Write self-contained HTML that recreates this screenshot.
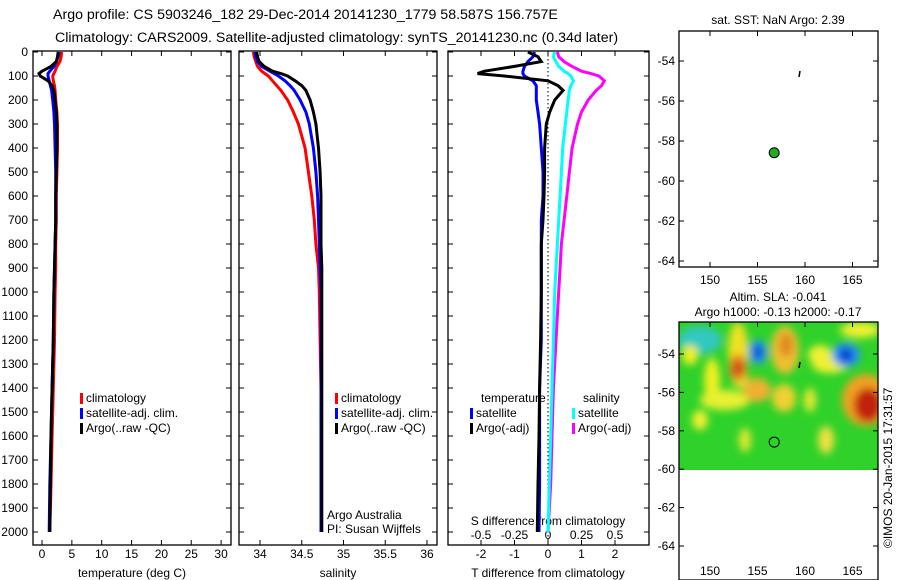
<!DOCTYPE html>
<html><head><meta charset="utf-8"><style>
html,body{margin:0;padding:0;background:#fff}
svg{display:block;font-family:"Liberation Sans",sans-serif}
text{font-size:12px;fill:#000}
</style></head><body>
<svg id="c" width="900" height="580" viewBox="0 0 900 580">
<defs>
<filter id="bl" x="-50%" y="-50%" width="200%" height="200%"><feGaussianBlur stdDeviation="4"/></filter>
<clipPath id="mapclip"><rect x="679" y="322" width="199" height="148"/></clipPath>
</defs>
<text x="53" y="19" style="font-size:14.2px">Argo profile: CS 5903246_182 29-Dec-2014 20141230_1779 58.587S 156.757E</text>
<text x="55" y="42" style="font-size:14.2px">Climatology: CARS2009. Satellite-adjusted climatology: synTS_20141230.nc (0.34d later)</text>
<g id="g"></g>
</svg>
<script>
// ---- data ----
const depths = [0,20,40,60,80,90,100,120,140,160,200,250,300,400,500,600,700,800,900,1000,1200,1400,1600,1800,2000];
const tempClim = [3.3,3.2,3.0,2.5,2.2,2.0,1.8,1.9,2.1,2.2,2.3,2.5,2.6,2.6,2.5,2.4,2.4,2.3,2.3,2.2,2.1,1.9,1.7,1.5,1.3];
const tempSat  = [2.9,2.7,2.4,2.0,1.3,1.0,1.0,1.2,1.4,1.6,1.8,2.0,2.1,2.2,2.3,2.3,2.3,2.2,2.1,2.0,1.9,1.7,1.5,1.3,1.2];
const tempArgo = [2.7,2.6,2.4,1.5,0.0,-0.5,-0.3,1.0,1.7,2.0,2.2,2.4,2.5,2.5,2.4,2.3,2.3,2.2,2.1,2.0,1.9,1.7,1.5,1.4,1.3];
const salClim = [33.92,33.93,33.95,33.97,34.02,34.06,34.10,34.15,34.20,34.25,34.33,34.40,34.46,34.54,34.58,34.62,34.65,34.67,34.70,34.71,34.72,34.73,34.73,34.73,34.73];
const salSat  = [33.94,33.95,33.97,34.02,34.12,34.17,34.22,34.30,34.36,34.41,34.48,34.55,34.59,34.64,34.67,34.69,34.70,34.71,34.72,34.73,34.73,34.73,34.73,34.73,34.73];
const salArgo = [33.96,33.97,33.99,34.05,34.15,34.25,34.33,34.42,34.50,34.55,34.60,34.64,34.67,34.70,34.72,34.73,34.73,34.73,34.74,34.74,34.74,34.74,34.74,34.74,34.74];
const tDiffSat  = [-0.4,-0.45,-0.6,-0.7,-0.75,-0.75,-0.7,-0.45,-0.35,-0.35,-0.35,-0.3,-0.25,-0.2,-0.15,-0.15,-0.2,-0.2,-0.2,-0.2,-0.2,-0.25,-0.25,-0.25,-0.27];
const tDiffArgo = [-0.6,-0.3,-0.2,-1.0,-1.9,-2.1,-1.3,0.0,0.3,0.45,0.2,0.05,-0.05,-0.1,-0.1,-0.12,-0.15,-0.2,-0.2,-0.2,-0.22,-0.25,-0.27,-0.3,-0.32];
const sDiffSat  = [0.05,0.04,0.06,0.08,0.12,0.15,0.17,0.19,0.17,0.16,0.15,0.14,0.13,0.11,0.10,0.09,0.08,0.07,0.06,0.05,0.04,0.03,0.02,0.01,0.0];
const sDiffArgo = [0.07,0.08,0.12,0.18,0.25,0.32,0.38,0.42,0.40,0.36,0.30,0.25,0.22,0.18,0.16,0.14,0.12,0.10,0.09,0.08,0.06,0.04,0.03,0.02,0.0];
const depthTicks = [0,100,200,300,400,500,600,700,800,900,1000,1100,1200,1300,1400,1500,1600,1700,1800,1900,2000];
const tempTicks = [0,5,10,15,20,25,30];
const salTicks = [34,34.5,35,35.5,36];
const tdTicks = [-2,-1,0,1,2];
const sdTicks = [-0.5,-0.25,0,0.25,0.5];
const sdTickLabels = ['-0.5','-0.25','0','0.25','0.5'];
const lonTicks = [150,155,160,165];
const latTicksTop = [-54,-56,-58,-60,-62,-64];
const floatLon = 156.757, floatLat = -58.587;

// ---- scales ----
const NS='http://www.w3.org/2000/svg';
const G=document.getElementById('g');
function el(t,a,p){const e=document.createElementNS(NS,t);for(const k in a)e.setAttribute(k,a[k]);(p||G).appendChild(e);return e;}
const Y0=51, Y1=545;
const yD = d => 52 + d*0.24;
const xT = v => 42 + v*5.97;
const xS = v => 260 + (v-34)*83.5;
const xTD = v => 548 + v*33.5;
const xSD = v => 548 + v*134;
const mx = lon => 710 + (lon-150)*9.5;
const myTop = lat => 61 + (-54-lat)*20;
const myBot = lat => 354 + (-54-lat)*19.2;

function box(x0,x1,y0,y1,name){
  const r=el('rect',{x:x0,y:y0,width:x1-x0,height:y1-y0,fill:'none',stroke:'#000','stroke-width':1.3});
  
  
}
function line(vals,xf,color,name,w){
  const pts=vals.map((v,i)=>xf(v).toFixed(1)+','+yD(depths[i]).toFixed(1)).join(' ');
  const p=el('polyline',{points:pts,fill:'none',stroke:color,'stroke-width':w||3});
  
  
}
function txt(x,y,s,anchor,name,size){
  const t=el('text',{x:x,y:y,'text-anchor':anchor||'start'});
  if(size)t.style.fontSize=size+'px';
  t.textContent=s;
  
  
  return t;
}
function yTicks(x0,x1,labels){
  depthTicks.forEach(d=>{
    el('line',{x1:x0,y1:yD(d),x2:x0+5,y2:yD(d),stroke:'#000'});
    el('line',{x1:x1,y1:yD(d),x2:x1-5,y2:yD(d),stroke:'#000'});
    if(labels)txt(x0-5,yD(d)+4,String(d),'end','y-tick-label');
  });
}
function xTicks(ticks,xf,ly){
  ticks.forEach(v=>{
    el('line',{x1:xf(v),y1:Y0,x2:xf(v),y2:Y0+5,stroke:'#000'});
    el('line',{x1:xf(v),y1:Y1,x2:xf(v),y2:Y1-5,stroke:'#000'});
    if(ly)txt(xf(v),ly,String(v),'middle','x-tick-label');
  });
}
function legend(x,y,items){
  items.forEach((it,i)=>{
    const r=el('rect',{x:x,y:y+i*15-9,width:3,height:11,fill:it[0]});
    
    
    txt(x+6,y+i*15,it[1],'start','legend-entry');
  });
}

// Panel 1: temperature
box(33,231,Y0,Y1,'temperature-panel');
yTicks(33,231,true); xTicks(tempTicks,xT,558);
txt(132,577,'temperature (deg C)','middle','temperature-axis-title');
line(tempClim,xT,'#f00','temp-climatology-line');
line(tempSat,xT,'#00f','temp-satellite-line');
line(tempArgo,xT,'#000','temp-argo-line');
legend(80,402,[['#f00','climatology'],['#00f','satellite-adj. clim.'],['#000','Argo(..raw -QC)']]);

// Panel 2: salinity
box(239,437,Y0,Y1,'salinity-panel');
yTicks(239,437,false); xTicks(salTicks,xS,558);
txt(338,577,'salinity','middle','salinity-axis-title');
line(salClim,xS,'#f00','sal-climatology-line');
line(salSat,xS,'#00f','sal-satellite-line');
line(salArgo,xS,'#000','sal-argo-line');
legend(335,402,[['#f00','climatology'],['#00f','satellite-adj. clim.'],['#000','Argo(..raw -QC)']]);
txt(327,519,'Argo Australia','start','credit-argo-australia');
txt(327,533,'PI: Susan Wijffels','start','credit-pi');

// Panel 3: differences
box(448,649,Y0,Y1,'difference-panel');
yTicks(448,649,false); xTicks(tdTicks,xTD,558);
sdTicks.forEach((v,i)=>txt(xSD(v),539,sdTickLabels[i],'middle','s-diff-tick-label'));
txt(548,525,'S difference from climatology','middle','s-diff-axis-title');
txt(548,577,'T difference from climatology','middle','t-diff-axis-title');
el('line',{x1:548,y1:Y0,x2:548,y2:Y1,stroke:'#000','stroke-dasharray':'1.5,2.5'});
line(sDiffArgo,xSD,'#f0f','s-diff-argo-line');
line(sDiffSat,xSD,'#0ff','s-diff-satellite-line');
line(tDiffSat,xTD,'#00f','t-diff-satellite-line');
line(tDiffArgo,xTD,'#000','t-diff-argo-line');
txt(481,402,'temperature','start','legend-temperature-header');
txt(583,402,'salinity','start','legend-salinity-header');
legend(470,417,[['#00f','satellite'],['#000','Argo(-adj)']]);
legend(572,417,[['#0ff','satellite'],['#f0f','Argo(-adj)']]);

// Top map
txt(778,24,'sat. SST: NaN Argo: 2.39','middle','sst-map-title');
box(679,878,31,267,'sst-map');
lonTicks.forEach(v=>{el('line',{x1:mx(v),y1:31,x2:mx(v),y2:36,stroke:'#000'});el('line',{x1:mx(v),y1:267,x2:mx(v),y2:262,stroke:'#000'});txt(mx(v),284,String(v),'middle','lon-tick-label');});
latTicksTop.forEach(v=>{el('line',{x1:679,y1:myTop(v),x2:684,y2:myTop(v),stroke:'#000'});el('line',{x1:878,y1:myTop(v),x2:873,y2:myTop(v),stroke:'#000'});txt(675,myTop(v)+4,String(v),'end','lat-tick-label');});
el('line',{x1:800,y1:71,x2:799,y2:77,stroke:'#000','stroke-width':1.5});
const d1=el('circle',{cx:mx(floatLon),cy:myTop(floatLat),r:5,fill:'#2a2',stroke:'#000'});



// Bottom map
txt(778,301,'Altim. SLA: -0.041','middle','sla-map-title');
txt(778,316,'Argo h1000: -0.13 h2000: -0.17','middle','sla-map-subtitle');
const img=el('g',{'clip-path':'url(#mapclip)'});


el('rect',{x:679,y:322,width:199,height:148,fill:'#2fd22a'},img);
const bl=el('g',{filter:'url(#bl)'},img);
[[700,340,22,14,'#30c8c0'],[690,355,8,10,'#f0f020'],[738,350,10,28,'#f0e020'],[740,378,8,10,'#e8e830'],[712,380,8,22,'#f0f020'],[725,400,25,10,'#e8f030'],
[738,368,9,14,'#f08820'],[738,368,4,8,'#c03010'],
[758,352,9,12,'#2090ff'],[758,352,4,6,'#0030c0'],[785,350,14,24,'#f0c030'],[786,345,7,12,'#e08820'],
[757,390,14,12,'#f0b030'],[784,398,12,14,'#f0d030'],[820,355,12,10,'#f0f030'],[830,365,18,8,'#f0f030'],
[846,355,14,12,'#2090ff'],[846,355,6,7,'#0030c0'],[866,400,24,26,'#f0a020'],[868,405,14,17,'#c02010'],
[826,440,8,14,'#f0e040'],[810,400,6,12,'#e8e830'],[860,330,20,8,'#f0f030'],[700,420,8,10,'#f0f030'],[745,440,6,12,'#e0e830']].forEach(b=>{
  el('ellipse',{cx:b[0],cy:b[1],rx:b[2],ry:b[3],fill:b[4]},bl);
});
box(679,878,322,580,'sla-map');
lonTicks.forEach(v=>{el('line',{x1:mx(v),y1:322,x2:mx(v),y2:327,stroke:'#000'});txt(mx(v),575,String(v),'middle','lon-tick-label');});
[-54,-56,-58,-60,-62,-64].forEach(v=>{el('line',{x1:679,y1:myBot(v),x2:684,y2:myBot(v),stroke:'#000'});el('line',{x1:878,y1:myBot(v),x2:873,y2:myBot(v),stroke:'#000'});txt(675,myBot(v)+4,String(v),'end','lat-tick-label');});
el('line',{x1:800,y1:362,x2:799,y2:368,stroke:'#000','stroke-width':1.5});
const d2=el('circle',{cx:mx(floatLon),cy:myBot(floatLat),r:5,fill:'none',stroke:'#000'});


const st=txt(0,0,'©IMOS 20-Jan-2015 17:31:57','start','imos-timestamp');
st.setAttribute('transform','translate(892,548) rotate(-90)');
</script>
</body></html>
